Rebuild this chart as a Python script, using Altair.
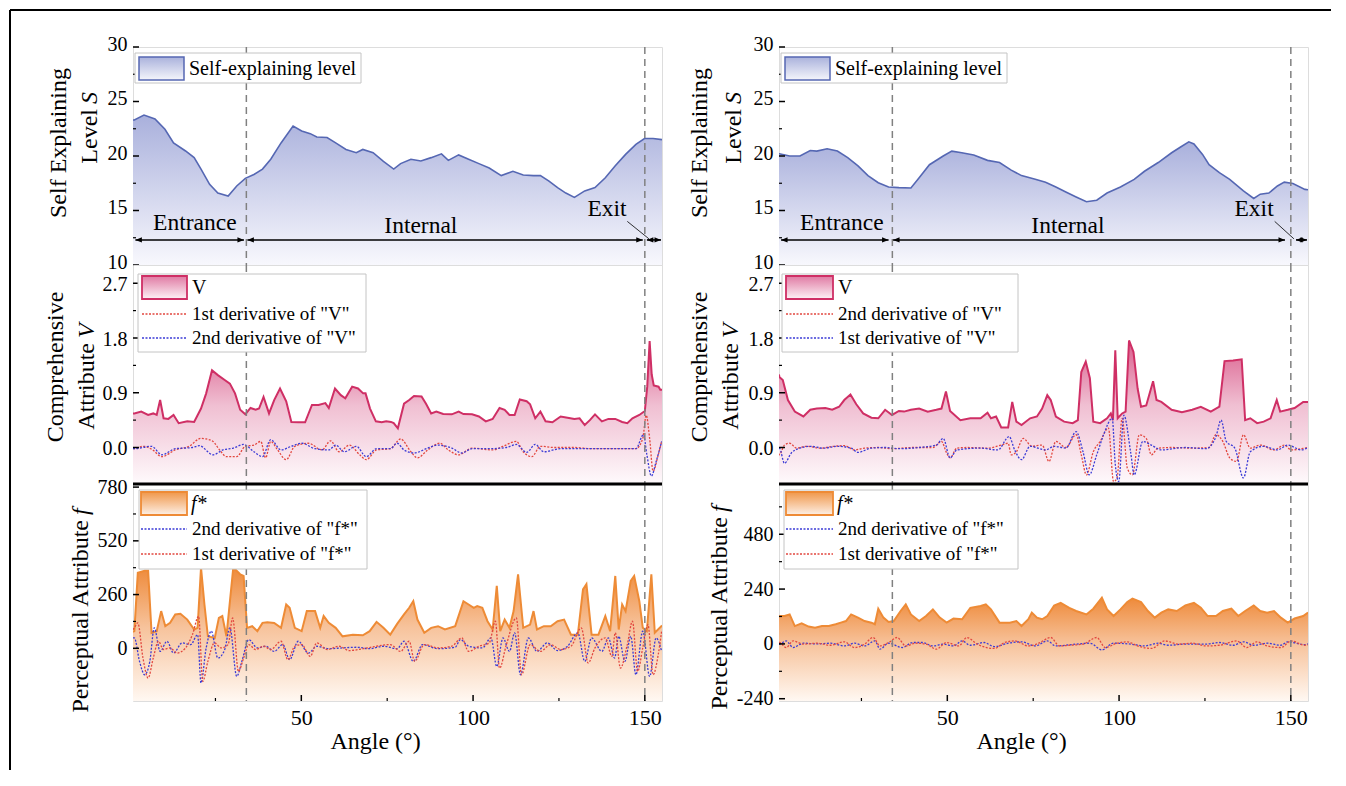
import altair as alt
import pandas as pd

FONT = "'Liberation Serif', 'Times New Roman', serif"
W = 529
H_TOP, H_MID, H_BOT = 218, 219, 217

# ---------------- axes / ticks ----------------
X_DOMAIN = [1, 155]
X_MAJOR = [50, 100, 150]
X_MINOR = [25, 75, 125]
ZONE_BOUNDS = [34, 150]

S_DOMAIN = [10, 30]
S_TICKS = [10, 15, 20, 25, 30]
S_MINOR = [12.5, 17.5, 22.5, 27.5]
V_DOMAIN = [-0.6, 3.0]
V_TICKS = [0.0, 0.9, 1.8, 2.7]
V_MINOR = [0.45, 1.35, 2.25]
F_DOMAIN_L = [-255, 795]
F_TICKS_L = [0, 260, 520, 780]
F_MINOR_L = [130, 390, 650]
F_DOMAIN_R = [-250, 700]
F_TICKS_R = [-240, 0, 240, 480]
F_MINOR_R = [-120, 120, 360, 600]

# ---------------- data (angle, value) ----------------
S_LEFT = [(1.0, 23.3), (1.4, 23.3), (4.2, 23.76), (7.4, 23.4), (10.3, 22.45), (12.8, 21.2), (16.3, 20.46),
          (18.8, 19.85), (20.8, 18.8), (23.3, 17.4), (25.7, 16.6), (28.7, 16.33), (31.2, 17.25), (33.7, 17.95),
          (36.2, 18.3), (38.7, 18.8), (41.1, 19.7), (44.1, 21.2), (47.6, 22.75), (50.1, 22.3), (52.6, 22.05),
          (54.5, 21.74), (57.5, 21.7), (60.0, 21.2), (63.0, 20.6), (66.0, 20.3), (67.9, 20.6), (70.9, 20.3),
          (73.9, 19.5), (76.9, 18.8), (78.9, 19.3), (81.9, 19.7), (84.8, 19.54), (87.8, 19.85), (90.8, 20.2),
          (92.8, 19.6), (95.8, 20.1), (98.7, 19.7), (101.7, 19.3), (104.7, 18.9), (108.2, 18.2), (111.6, 18.6),
          (114.6, 18.25), (117.6, 18.2), (119.6, 18.2), (122.1, 17.7), (124.6, 17.1), (127.0, 16.6),
          (129.5, 16.2), (132.5, 16.8), (135.5, 17.1), (138.5, 18.0), (141.4, 19.1), (144.4, 20.15),
          (147.4, 21.07), (149.9, 21.6), (152.4, 21.6), (155.0, 21.5)]

S_RIGHT = [(1.0, 20.2), (1.1, 20.2), (4.1, 20.0), (7.1, 20.0), (10.1, 20.5), (12.0, 20.45), (15.0, 20.67),
           (18.0, 20.45), (21.0, 19.85), (24.0, 19.1), (26.9, 18.2), (29.9, 17.55), (32.9, 17.16), (35.9, 17.1),
           (39.4, 17.07), (41.8, 18.0), (44.8, 19.2), (48.8, 20.0), (51.3, 20.45), (54.2, 20.3), (57.7, 20.1),
           (61.7, 19.6), (65.2, 19.4), (68.6, 18.7), (71.6, 18.2), (75.6, 17.86), (78.6, 17.6), (81.6, 17.16),
           (84.5, 16.7), (87.5, 16.24), (90.5, 15.8), (93.5, 15.94), (96.5, 16.6), (100.4, 17.16), (104.4, 17.86),
           (107.4, 18.6), (111.4, 19.4), (115.3, 20.3), (117.8, 20.8), (120.3, 21.3), (121.8, 21.1),
           (124.3, 20.15), (126.2, 19.2), (129.2, 18.47), (132.2, 17.86), (136.2, 16.8), (139.2, 16.1),
           (141.1, 16.5), (143.6, 16.6), (146.1, 17.25), (148.1, 17.6), (150.6, 17.47), (154.1, 16.94), (155.0, 16.9)]

V_LEFT = [(1.0, 0.56), (1.4, 0.56), (3.4, 0.59), (5.4, 0.535), (6.9, 0.56), (7.9, 0.535), (8.9, 0.78), (9.9, 0.48),
          (11.3, 0.47), (12.8, 0.535), (14.3, 0.40), (16.8, 0.43), (18.8, 0.42), (20.8, 0.64), (22.3, 0.89),
          (24.0, 1.27), (25.7, 1.19), (27.7, 1.11), (29.2, 1.05), (30.7, 0.89), (32.2, 0.62), (33.7, 0.545),
          (35.2, 0.65), (36.7, 0.62), (37.7, 0.64), (39.0, 0.83), (40.6, 0.56), (42.1, 0.78), (43.8, 0.97),
          (45.6, 0.76), (47.1, 0.42), (49.1, 0.415), (51.1, 0.415), (53.1, 0.70), (55.0, 0.70), (57.0, 0.73),
          (58.0, 0.65), (59.8, 0.97), (61.5, 0.86), (62.8, 0.81), (64.8, 1.0), (66.5, 0.97), (68.0, 0.89),
          (68.7, 0.89), (70.0, 0.64), (71.7, 0.43), (73.4, 0.415), (74.7, 0.43), (76.1, 0.42), (76.9, 0.40),
          (78.1, 0.316), (79.9, 0.72), (81.4, 0.78), (82.8, 0.845), (85.0, 0.84), (86.3, 0.72), (87.8, 0.56),
          (89.3, 0.59), (91.3, 0.55), (93.8, 0.545), (95.8, 0.59), (97.2, 0.55), (99.7, 0.545), (101.7, 0.51),
          (103.7, 0.43), (105.7, 0.47), (107.7, 0.65), (109.2, 0.62), (110.6, 0.535), (112.1, 0.535),
          (113.6, 0.79), (115.6, 0.76), (116.6, 0.71), (118.1, 0.48), (119.6, 0.59), (121.1, 0.43),
          (123.1, 0.415), (125.5, 0.51), (127.5, 0.49), (129.5, 0.47), (131.0, 0.48), (132.5, 0.37),
          (134.0, 0.45), (135.5, 0.545), (137.5, 0.43), (139.4, 0.47), (141.4, 0.47), (143.4, 0.42),
          (144.9, 0.40), (146.4, 0.48), (148.4, 0.535), (150.0, 0.60), (150.7, 1.0), (151.4, 1.75),
          (152.0, 1.2), (152.6, 1.02), (154.0, 1.0), (154.5, 0.95), (155.0, 0.95)]

V_RIGHT = [(1.0, 1.2), (1.1, 1.16), (2.1, 1.11), (3.6, 0.78), (5.6, 0.59), (8.1, 0.51), (10.1, 0.62), (12.0, 0.64),
           (14.5, 0.65), (16.5, 0.62), (18.5, 0.67), (20.0, 0.78), (21.8, 0.87), (23.5, 0.71), (25.5, 0.56),
           (27.9, 0.49), (29.9, 0.48), (31.9, 0.62), (33.9, 0.535), (35.9, 0.60), (37.4, 0.59), (39.4, 0.62),
           (41.8, 0.64), (44.3, 0.59), (46.8, 0.62), (48.3, 0.64), (49.6, 0.92), (50.8, 0.60), (53.8, 0.45),
           (56.7, 0.48), (59.7, 0.48), (61.7, 0.57), (62.7, 0.48), (64.2, 0.51), (65.7, 0.33), (67.7, 0.33),
           (68.9, 0.75), (70.1, 0.425), (71.6, 0.37), (74.1, 0.48), (76.1, 0.51), (77.6, 0.64), (79.1, 0.86),
           (80.1, 0.78), (81.6, 0.51), (84.0, 0.425), (86.5, 0.40), (88.0, 0.45), (89.0, 1.24), (90.3, 1.41),
           (91.5, 1.14), (92.5, 0.425), (94.5, 0.40), (96.5, 0.48), (97.6, 0.56), (98.2, 0.45), (98.9, 1.6),
           (99.6, 0.48), (100.9, 0.56), (101.9, 0.59), (102.9, 1.76), (104.2, 1.57), (105.4, 0.97), (106.4, 0.67),
           (107.9, 0.69), (109.9, 1.09), (110.9, 0.78), (112.3, 0.75), (115.3, 0.62), (118.3, 0.58),
           (121.3, 0.62), (123.8, 0.67), (126.7, 0.59), (129.2, 0.67), (130.7, 1.42), (133.2, 1.43),
           (135.7, 1.45), (136.7, 0.45), (138.2, 0.48), (140.2, 0.40), (142.1, 0.425), (144.1, 0.48),
           (145.9, 0.78), (146.9, 0.59), (149.1, 0.62), (151.1, 0.65), (153.6, 0.75), (155.0, 0.75)]

V_LEFT_D1 = [(1.0, -0.02), (1.4, -0.02), (4.0, 0.02), (6.5, -0.03), (9.4, -0.15), (13.3, -0.04), (17.3, 0.02),
             (20.8, 0.15), (22.3, 0.14), (24.3, 0.10), (26.2, -0.04), (28.2, -0.15), (31.2, -0.15), (33.7, 0.02),
             (36.2, 0.04), (38.2, 0.10), (39.6, -0.17), (41.1, 0.10), (43.1, -0.04), (45.6, -0.20), (48.1, 0.02),
             (52.1, 0.07), (56.0, -0.04), (58.5, 0.11), (61.0, -0.07), (64.0, 0.04), (67.0, -0.12), (68.9, -0.20),
             (71.9, -0.04), (75.9, -0.02), (78.9, 0.14), (81.9, -0.07), (83.8, -0.17), (86.8, -0.04), (90.3, 0.07),
             (92.8, -0.04), (95.8, -0.12), (99.7, -0.01), (105.7, -0.04), (108.7, 0.02), (112.6, 0.10),
             (114.6, -0.07), (117.1, -0.15), (119.6, 0.02), (123.6, 0.0), (129.5, 0.0), (134.5, -0.02),
             (139.4, -0.02), (147.4, -0.02), (149.4, 0.15), (150.4, 0.53), (151.4, 0.15), (152.4, -0.39),
             (153.9, -0.12), (154.9, 0.10)]
V_LEFT_D2 = [(1.0, -0.02), (1.4, -0.02), (6.4, 0.02), (9.4, -0.12), (13.3, -0.02), (18.3, 0.0), (20.3, 0.03),
             (24.3, -0.12), (27.2, -0.04), (30.2, -0.01), (33.2, 0.05), (36.2, -0.07), (38.7, -0.15), (41.1, 0.13),
             (44.1, -0.04), (47.1, 0.02), (50.1, 0.07), (54.0, -0.02), (58.0, -0.04), (60.0, 0.04), (62.5, -0.07),
             (66.0, 0.02), (68.9, -0.15), (71.9, -0.02), (75.9, -0.02), (77.9, 0.07), (79.9, -0.04), (82.8, -0.09),
             (86.8, -0.01), (89.8, 0.04), (93.8, -0.01), (96.7, -0.09), (99.7, -0.02), (104.7, -0.02),
             (109.7, 0.0), (112.6, 0.05), (115.6, -0.08), (118.1, 0.05), (120.6, -0.07), (125.5, -0.02),
             (134.5, -0.02), (147.4, -0.02), (149.6, 0.21), (150.6, -0.12), (151.9, -0.47), (153.3, -0.23),
             (154.9, 0.10)]
V_RIGHT_D2 = [(1.0, -0.10), (1.1, -0.12), (2.6, 0.04), (4.1, 0.07), (6.1, -0.01), (9.1, 0.02), (13.0, -0.01),
              (17.0, 0.02), (20.0, 0.03), (23.0, -0.04), (25.9, -0.01), (29.9, 0.0), (33.9, -0.02), (39.9, 0.0),
              (45.8, 0.0), (48.3, 0.10), (49.8, -0.09), (50.8, -0.17), (52.8, -0.01), (55.7, 0.0), (61.7, -0.01),
              (65.7, 0.04), (67.7, 0.07), (68.6, -0.12), (70.1, -0.07), (72.1, 0.15), (74.6, 0.02), (77.6, 0.04),
              (79.6, -0.23), (81.6, 0.10), (84.5, 0.0), (87.5, 0.21), (89.0, -0.12), (90.5, -0.45), (92.5, -0.07),
              (94.5, 0.10), (96.9, 0.32), (98.4, -0.56), (99.4, -0.50), (100.9, 0.48), (102.4, -0.34),
              (103.9, -0.45), (105.9, 0.21), (107.9, 0.15), (109.4, -0.12), (111.4, -0.01), (115.3, 0.0),
              (121.3, -0.01), (126.2, 0.0), (128.2, 0.21), (130.2, 0.10), (132.2, -0.17), (134.2, -0.23),
              (136.2, 0.21), (138.2, -0.01), (141.1, 0.04), (145.1, -0.04), (148.1, 0.04), (150.1, -0.04),
              (154.1, -0.01), (155.0, 0.0)]
V_RIGHT_D1 = [(1.0, -0.01), (1.1, -0.01), (2.6, -0.26), (4.6, -0.09), (7.1, -0.01), (10.1, 0.02), (14.0, -0.01),
              (18.0, 0.02), (22.0, -0.01), (24.0, -0.08), (27.9, -0.01), (31.9, 0.0), (35.9, -0.02), (41.8, 0.0),
              (46.8, 0.04), (48.8, 0.15), (50.8, -0.17), (52.8, -0.04), (59.7, -0.01), (64.7, -0.04), (68.0, 0.18),
              (69.6, -0.04), (71.6, -0.20), (74.1, 0.02), (78.6, -0.04), (81.1, 0.02), (84.5, -0.01), (87.5, 0.26),
              (89.5, -0.07), (91.3, -0.45), (93.5, -0.12), (95.5, 0.21), (98.0, 0.48), (98.9, -0.28),
              (99.9, -0.56), (101.4, 0.53), (103.4, -0.09), (104.4, -0.45), (106.9, 0.10), (109.4, 0.04),
              (112.3, -0.04), (119.3, 0.0), (125.3, -0.02), (128.2, 0.18), (129.7, 0.45), (131.2, 0.10),
              (133.7, -0.01), (136.2, -0.50), (138.2, -0.07), (142.1, 0.02), (146.1, -0.04), (149.1, 0.04),
              (153.1, -0.04), (155.0, 0.0)]

F_LEFT = [(1.0, 80), (1.4, 83), (2.4, 366), (4.4, 375), (5.4, 375), (6.4, 75), (7.9, 83), (9.2, 180), (10.4, 107),
          (11.8, 123), (13.3, 164), (14.8, 167), (16.8, 139), (18.8, 91), (19.8, 99), (20.8, 391), (21.8, 212),
          (22.8, 58), (24.8, 50), (26.0, 147), (27.0, 156), (28.2, 58), (30.2, 391), (32.2, 358), (33.2, 350),
          (34.2, 99), (35.7, 107), (37.2, 83), (38.7, 123), (40.1, 126), (42.1, 123), (44.1, 99), (45.6, 212),
          (46.6, 196), (48.1, 99), (50.1, 83), (51.6, 180), (54.0, 180), (55.5, 99), (56.5, 156), (58.0, 123),
          (60.0, 99), (62.0, 58), (65.0, 66), (67.9, 63), (69.9, 83), (71.9, 128), (73.9, 99), (75.9, 66),
          (77.9, 118), (79.9, 164), (81.4, 196), (82.6, 228), (83.8, 139), (85.8, 75), (87.8, 99), (89.8, 107),
          (91.8, 91), (94.8, 107), (97.2, 228), (98.7, 212), (100.2, 196), (101.2, 204), (102.7, 196),
          (104.2, 131), (105.7, 91), (106.9, 302), (107.9, 83), (109.2, 139), (110.6, 99), (111.8, 180),
          (113.1, 358), (114.6, 99), (116.6, 115), (117.6, 180), (118.6, 91), (120.6, 107), (122.6, 107),
          (124.6, 131), (126.5, 139), (128.5, 66), (130.5, 66), (132.0, 285), (133.0, 310), (134.5, 66),
          (136.5, 66), (138.5, 156), (139.9, 83), (141.4, 350), (142.4, 91), (143.4, 212), (144.4, 180),
          (145.9, 326), (146.9, 350), (148.4, 228), (149.4, 99), (150.6, 83), (151.9, 358), (152.9, 75),
          (154.8, 107), (155.0, 110)]

F_RIGHT = [(1.0, 118), (1.1, 122), (2.6, 122), (4.1, 129), (5.6, 78), (7.6, 90), (9.6, 76), (11.5, 71), (13.5, 78),
           (15.5, 78), (17.5, 86), (19.0, 93), (20.5, 100), (22.0, 129), (24.0, 115), (25.9, 100), (27.9, 93),
           (28.9, 86), (29.9, 154), (31.4, 115), (32.9, 96), (34.4, 100), (36.4, 144), (37.9, 173), (39.4, 129),
           (41.8, 100), (43.8, 122), (45.8, 151), (47.8, 115), (49.8, 93), (51.8, 111), (54.3, 108), (56.7, 158),
           (59.7, 166), (61.2, 173), (62.7, 151), (65.2, 93), (68.2, 93), (70.1, 100), (71.6, 78), (73.6, 108),
           (74.6, 137), (76.1, 115), (77.6, 108), (79.1, 122), (81.1, 168), (83.0, 180), (85.5, 158), (87.5, 144),
           (90.5, 129), (92.5, 154), (95.0, 202), (96.5, 151), (98.4, 122), (100.4, 151), (102.4, 183),
           (103.9, 198), (106.4, 183), (108.4, 144), (110.4, 115), (112.3, 137), (114.3, 151), (116.8, 144),
           (119.3, 168), (121.8, 180), (123.8, 158), (125.8, 122), (128.2, 122), (130.2, 144), (132.7, 154),
           (134.7, 122), (136.7, 144), (139.2, 168), (141.1, 144), (143.1, 137), (145.1, 144), (147.1, 115),
           (149.1, 93), (151.1, 111), (153.6, 122), (155.0, 137)]

F_LEFT_D1 = [(1.0, 90), (1.4, 99), (2.4, 123), (3.9, -47), (5.4, -144), (6.9, -47), (8.4, 34), (9.9, -6), (11.8, 2),
             (13.8, -23), (16.3, 2), (18.3, 66), (20.1, 155), (21.3, -160), (22.8, -63), (24.7, 26), (26.7, 2),
             (28.7, 18), (30.0, 147), (31.7, -112), (33.2, -47), (34.7, 18), (36.7, -6), (39.1, 10), (41.1, -6),
             (44.1, 34), (46.1, -55), (48.1, 10), (50.1, 18), (52.6, -39), (54.5, 26), (57.5, -6), (61.0, 10),
             (64.0, -11), (68.0, -2), (71.9, 10), (75.9, 18), (78.9, -15), (81.4, 34), (83.0, -63), (85.8, 18),
             (89.8, 2), (93.8, 10), (96.7, 50), (98.7, -15), (101.7, 10), (104.7, 26), (106.5, 131), (107.7, -96),
             (109.7, 18), (112.6, 147), (114.1, -128), (116.6, 18), (119.6, -15), (122.6, 18), (125.5, -6),
             (128.5, 10), (131.5, 99), (133.5, -71), (135.5, 2), (138.5, 50), (140.4, -39), (141.4, 75),
             (142.9, -96), (144.9, 18), (146.4, 131), (147.9, -112), (149.4, 2), (150.9, 115), (152.4, -128),
             (153.9, -31), (154.9, 83)]
F_LEFT_D2 = [(1.0, 50), (1.4, 50), (2.9, -63), (4.4, -128), (5.9, -63), (7.2, 99), (8.9, -15), (10.9, 34),
             (12.8, -23), (15.3, 26), (17.8, 18), (19.8, 66), (20.8, -168), (22.3, 2), (23.8, 83), (25.7, -47),
             (27.7, -6), (29.2, 99), (31.2, -136), (32.7, -63), (34.7, 42), (37.2, 2), (39.6, 10), (42.1, -15),
             (44.6, 18), (46.6, -55), (49.1, 34), (52.1, -23), (54.5, 10), (58.0, -2), (62.0, 2), (66.0, 5),
             (69.9, -2), (73.9, 10), (77.9, -2), (79.9, 34), (82.6, -63), (85.3, 18), (89.8, -2), (94.8, 5),
             (96.3, 42), (98.7, 10), (102.7, 2), (105.2, 50), (106.9, -88), (108.7, 50), (110.6, -15), (112.1, 75),
             (113.8, -128), (116.1, 50), (118.6, -15), (121.6, 26), (124.6, -11), (127.5, 10), (130.5, 75),
             (132.5, -63), (134.5, 50), (137.5, -15), (139.4, 50), (141.2, -47), (142.4, 58), (144.2, -63),
             (145.9, 58), (147.4, -128), (149.4, 83), (151.4, -136), (153.3, 50), (154.9, -15)]
F_RIGHT_D1 = [(1.0, 6), (1.1, 6), (3.1, -16), (5.1, 13), (8.1, -1), (12.0, 3), (16.0, -6), (20.0, 9), (23.0, -16),
              (25.9, -1), (28.4, 28), (30.4, -9), (32.9, 6), (35.4, 28), (37.9, -9), (40.8, 3), (43.8, -1),
              (46.8, -23), (49.8, 6), (53.3, -9), (55.7, 28), (58.7, -1), (63.7, -20), (66.7, 6), (69.6, 13),
              (73.6, -9), (76.6, 3), (80.1, 28), (82.6, -9), (85.5, -6), (89.5, -1), (93.5, 28), (96.0, -16),
              (99.4, 3), (102.4, 9), (105.4, -9), (109.4, -20), (113.3, 13), (117.3, -1), (121.3, 3), (125.3, -9),
              (129.2, -6), (134.2, 13), (137.2, -16), (140.1, 9), (143.1, -9), (147.1, -16), (150.1, 13),
              (154.1, -6), (155.0, -4)]
F_RIGHT_D2 = [(1.0, -1), (1.1, -1), (3.1, 13), (5.1, -16), (8.1, 3), (12.0, 0), (16.0, 3), (20.0, -9), (23.0, 3),
              (25.9, -9), (28.9, 13), (30.4, -23), (32.9, 3), (36.9, -16), (39.9, 6), (42.8, 6), (45.8, -9),
              (48.8, -1), (51.8, -9), (54.3, 13), (56.7, -6), (60.7, 6), (63.7, -12), (67.7, 3), (71.6, 9),
              (75.6, -9), (79.1, 13), (81.6, -9), (87.5, -1), (91.5, 3), (95.0, -26), (98.4, 3), (103.4, -1),
              (107.4, -9), (111.4, 3), (114.3, -6), (119.3, -1), (125.3, -1), (129.2, 6), (133.2, -6), (136.2, 9),
              (139.2, -6), (143.1, 3), (147.1, -6), (149.1, 9), (154.1, -3), (155.0, 0)]

# zones (start, end) and annotation positions
ZONES_L = [(1.7, 33.3), (34.3, 149.4), (150.6, 154.7)]
ZONES_R = [(1.6, 32.9), (34.2, 148.3), (151.5, 154.7)]
ARROW_LEVEL = 12.3
ZONE_TEXT_L = [("Entrance", 19.0, 13.85), ("Internal", 84.8, 13.6), ("Exit", 139.0, 15.1)]
ZONE_TEXT_R = [("Entrance", 19.3, 13.85), ("Internal", 85.1, 13.6), ("Exit", 139.3, 15.1)]
LEADER_L = (144.9, 14.0, 151.2, 12.4)
LEADER_R = (145.3, 14.0, 150.9, 12.4)

# ---------------- styles ----------------
S_LINE = "#5567b3"
V_LINE = "#cf2f65"
F_LINE = "#ee8b36"
RED = "#e2473f"
BLUE = "#3b3bd6"
DASH = "#808080"
TITLE_SIZE = 24
LABEL_SIZE = 20


def grad(stops):
    return alt.Gradient(gradient="linear", x1=0, x2=0, y1=0, y2=1,
                        stops=[alt.GradientStop(offset=o, color=c) for o, c in stops])


GRAD_S = grad([(0, "#a9b0dc"), (1, "#f8f8fd")])
GRAD_V = grad([(0, "#da5d8c"), (0.45, "#f0bfd2"), (1, "#fefafc")])
GRAD_F = grad([(0, "#ee8a3a"), (0.45, "#f7c39c"), (1, "#fff8f2")])
SW_S = grad([(0, "#aab2dc"), (1, "#f4f5fb")])
SW_V = grad([(0, "#e07aa3"), (1, "#fdf2f6")])
SW_F = grad([(0, "#f0974a"), (1, "#fdf0e6")])

ONE = pd.DataFrame({"k": [0]})
X_SCALE = alt.Scale(domain=X_DOMAIN, nice=False, zero=False)
X_AXIS = alt.Axis(values=X_MAJOR, title="Angle (°)", tickSize=0, domain=False, grid=False,
                  labelFont=FONT, labelFontSize=22, labelColor="black", labelPadding=6,
                  titleFont=FONT, titleFontSize=TITLE_SIZE, titleFontWeight="normal", titleColor="black",
                  titlePadding=1, titleX=242)


def df(pairs):
    return pd.DataFrame(pairs, columns=["a", "v"])


def xe(bottom):
    if bottom:
        return alt.X("a:Q", scale=X_SCALE, axis=X_AXIS)
    return alt.X("a:Q", scale=X_SCALE, axis=None)


def make_y(domain, ticks, fmt=None, expr=None, offset=0):
    kw = dict(values=ticks, title=None, tickSize=0, domain=False, grid=False, labelFont=FONT,
              labelFontSize=LABEL_SIZE, labelColor="black", labelPadding=6, labelOffset=offset)
    if fmt:
        kw["format"] = fmt
    if expr:
        kw["labelExpr"] = expr

    def f():
        return alt.Y("v:Q", scale=alt.Scale(domain=domain, nice=False, zero=False), axis=alt.Axis(**kw))
    return f


def rect(x1, x2, y1, y2, **mk):
    return alt.Chart(ONE).mark_rect(**mk).encode(x=alt.value(x1), x2=alt.value(x2), y=alt.value(y1), y2=alt.value(y2))


def seg(x1, x2, y1, y2, **mk):
    return alt.Chart(ONE).mark_rule(**mk).encode(x=alt.value(x1), x2=alt.value(x2), y=alt.value(y1), y2=alt.value(y2))


def txt(x, y, s, size=19, **mk):
    return alt.Chart(ONE).mark_text(text=s, font=FONT, fontSize=size, color="black", **mk).encode(
        x=alt.value(x), y=alt.value(y))


def common(Y, h, yticks, yminor, bottom):
    layers = []
    layers.append(alt.Chart(pd.DataFrame({"a": ZONE_BOUNDS})).mark_rule(
        color=DASH, strokeDash=[7, 5], strokeWidth=1.5).encode(x=xe(bottom)))
    layers.append(alt.Chart(pd.DataFrame({"v": yticks})).mark_rule(color="black", strokeWidth=1.5).encode(
        y=Y(), x=alt.value(0), x2=alt.value(6)))
    layers.append(alt.Chart(pd.DataFrame({"v": yminor})).mark_rule(color="black", strokeWidth=1.2).encode(
        y=Y(), x=alt.value(0), x2=alt.value(3)))
    if bottom:
        layers.append(alt.Chart(pd.DataFrame({"a": X_MAJOR})).mark_rule(color="black", strokeWidth=1.5).encode(
            x=xe(True), y=alt.value(h), y2=alt.value(h - 6)))
        layers.append(alt.Chart(pd.DataFrame({"a": X_MINOR})).mark_rule(color="black", strokeWidth=1.2).encode(
            x=xe(True), y=alt.value(h), y2=alt.value(h - 3)))
    return layers


ARROW_L = "M0,0L1,-0.4L1,0.4Z"
ARROW_R = "M0,0L-1,-0.4L-1,0.4Z"


def top_panel(S, zones, ztext, leader, tx1, tx2, with_frame):
    Y = make_y(S_DOMAIN, S_TICKS, offset=-3)
    layers = [
        alt.Chart(df(S)).mark_area(fill=GRAD_S, clip=True).encode(x=xe(False), y=Y(), y2=alt.datum(S_DOMAIN[0])),
        alt.Chart(df(S)).mark_line(color=S_LINE, strokeWidth=1.6, clip=True).encode(x=xe(False), y=Y()),
    ]
    layers += common(Y, H_TOP, S_TICKS, S_MINOR, False)
    zdf = pd.DataFrame({"a": [z[0] for z in zones], "a2": [z[1] for z in zones],
                        "v": [ARROW_LEVEL] * len(zones)})
    layers.append(alt.Chart(zdf).mark_rule(color="black", strokeWidth=1.6).encode(
        x=xe(False), x2="a2:Q", y=Y()))
    layers.append(alt.Chart(zdf).mark_point(shape=ARROW_L, filled=True, size=169, color="black", opacity=1).encode(
        x=xe(False), y=Y()))
    layers.append(alt.Chart(zdf.assign(a=zdf["a2"])).mark_point(shape=ARROW_R, filled=True, size=169,
                                                                  color="black", opacity=1).encode(
        x=xe(False), y=Y()))
    tdf = pd.DataFrame({"t": [z[0] for z in ztext], "a": [z[1] for z in ztext], "v": [z[2] for z in ztext]})
    layers.append(alt.Chart(tdf).mark_text(font=FONT, fontSize=23.5, color="black").encode(
        x=xe(False), y=Y(), text="t:N"))
    ldf = pd.DataFrame({"a": [leader[0]], "v": [leader[1]], "a2": [leader[2]], "v2": [leader[3]]})
    layers.append(alt.Chart(ldf).mark_rule(color="black", strokeWidth=0.8).encode(
        x=xe(False), y=Y(), x2="a2:Q", y2="v2:Q"))
    # legend
    layers += [
        rect(2, 228, 6, 36, fill="white", stroke="#c4c4c4", strokeWidth=1),
        rect(6, 51, 10, 33, fill=SW_S, stroke=S_LINE, strokeWidth=1.5),
        txt(56, 22, "Self-explaining level", size=20, align="left", baseline="middle"),
    ]
    # y title
    layers += [
        txt(tx1, 96, "Self Explaining", size=TITLE_SIZE, angle=270, align="center", baseline="middle"),
        txt(tx2, 62, "Level", size=TITLE_SIZE, angle=270, align="right", baseline="middle"),
        txt(tx2, 57, "S", size=TITLE_SIZE, angle=270, align="left", baseline="middle", fontStyle="italic"),
    ]
    if with_frame:
        layers += [
            seg(-123, -123, -37, 723, color="black", strokeWidth=2),
            seg(-123, 1198, -37, -37, color="black", strokeWidth=2),
        ]
    return alt.layer(*layers).properties(width=W, height=H_TOP)


def mid_panel(V, red, blue, red_label, blue_label, tx1, tx2, box):
    Y = make_y(V_DOMAIN, V_TICKS, fmt=".1f", offset=1)
    layers = [
        alt.Chart(df(V)).mark_area(fill=GRAD_V, clip=True).encode(x=xe(False), y=Y(), y2=alt.datum(V_DOMAIN[0])),
        alt.Chart(df(V)).mark_line(color=V_LINE, strokeWidth=2, clip=True).encode(x=xe(False), y=Y()),
        alt.Chart(df(red)).mark_line(color=RED, strokeWidth=1.3, strokeDash=[2, 1.5], clip=True,
                                     interpolate="monotone").encode(x=xe(False), y=Y()),
        alt.Chart(df(blue)).mark_line(color=BLUE, strokeWidth=1.3, strokeDash=[2, 1.5], clip=True,
                                      interpolate="monotone").encode(x=xe(False), y=Y()),
    ]
    layers += common(Y, H_MID, V_TICKS, V_MINOR, False)
    bx1, bx2, sx1, sx2 = box
    layers += [
        rect(bx1, bx2, 9, 87, fill="white", stroke="#c4c4c4", strokeWidth=1),
        rect(sx1, sx2, 11, 34, fill=SW_V, stroke=V_LINE, strokeWidth=1.8),
        txt(sx2 + 5, 23, "V", size=20, align="left", baseline="middle"),
        seg(sx1, sx2, 49, 49, color=RED, strokeWidth=1.3, strokeDash=[2, 1.5]),
        txt(sx2 + 5, 49, red_label, align="left", baseline="middle"),
        seg(sx1, sx2, 73, 73, color=BLUE, strokeWidth=1.3, strokeDash=[2, 1.5]),
        txt(sx2 + 5, 73, blue_label, align="left", baseline="middle"),
    ]
    layers += [
        txt(tx1, 102, "Comprehensive", size=TITLE_SIZE, angle=270, align="center", baseline="middle"),
        txt(tx2, 78, "Attribute", size=TITLE_SIZE, angle=270, align="right", baseline="middle"),
        txt(tx2, 73, "V", size=TITLE_SIZE, angle=270, align="left", baseline="middle", fontStyle="italic"),
    ]
    return alt.layer(*layers).properties(width=W, height=H_MID)


def bot_panel(F, red, blue, domain, ticks, minor, tx, anchor, box):
    Y = make_y(domain, ticks, expr="'' + datum.value")
    layers = [
        alt.Chart(df(F)).mark_area(fill=GRAD_F, clip=True).encode(x=xe(True), y=Y(), y2=alt.datum(domain[0])),
        alt.Chart(df(F)).mark_line(color=F_LINE, strokeWidth=2, clip=True).encode(x=xe(True), y=Y()),
        alt.Chart(df(blue)).mark_line(color=BLUE, strokeWidth=1.3, strokeDash=[2, 1.5], clip=True,
                                      interpolate="monotone").encode(x=xe(True), y=Y()),
        alt.Chart(df(red)).mark_line(color=RED, strokeWidth=1.3, strokeDash=[2, 1.5], clip=True,
                                     interpolate="monotone").encode(x=xe(True), y=Y()),
    ]
    layers += common(Y, H_BOT, ticks, minor, True)
    layers.append(seg(0, W, 0, 0, color="black", strokeWidth=3))
    bx1, bx2, sx1, sx2 = box
    layers += [
        rect(bx1, bx2, 6, 85, fill="white", stroke="#c4c4c4", strokeWidth=1),
        rect(sx1, sx2, 8, 31, fill=SW_F, stroke=F_LINE, strokeWidth=1.8),
        txt(sx2 + 4, 20, "f*", size=20, align="left", baseline="middle", fontStyle="italic"),
        seg(sx1, sx2, 45, 45, color=BLUE, strokeWidth=1.3, strokeDash=[2, 1.5]),
        txt(sx2 + 5, 45, '2nd derivative of "f*"', align="left", baseline="middle"),
        seg(sx1, sx2, 70, 70, color=RED, strokeWidth=1.3, strokeDash=[2, 1.5]),
        txt(sx2 + 5, 70, '1st derivative of "f*"', align="left", baseline="middle"),
    ]
    layers += [
        txt(tx, anchor, "Perceptual Attribute", size=TITLE_SIZE, angle=270, align="right", baseline="middle"),
        txt(tx, anchor - 5, "f", size=TITLE_SIZE, angle=270, align="left", baseline="middle", fontStyle="italic"),
    ]
    return alt.layer(*layers).properties(width=W, height=H_BOT)


panels = [
    top_panel(S_LEFT, ZONES_L, ZONE_TEXT_L, LEADER_L, -74, -43, True),
    top_panel(S_RIGHT, ZONES_R, ZONE_TEXT_R, LEADER_R, -79, -45, False),
    mid_panel(V_LEFT, V_LEFT_D1, V_LEFT_D2, '1st derivative of "V"', '2nd derivative of "V"', -77, -46,
              (5, 233, 9, 54)),
    mid_panel(V_RIGHT, V_RIGHT_D2, V_RIGHT_D1, '2nd derivative of "V"', '1st derivative of "V"', -79, -48,
              (3, 239, 7, 54)),
    bot_panel(F_LEFT, F_LEFT_D1, F_LEFT_D2, F_DOMAIN_L, F_TICKS_L, F_MINOR_L, -52, 36, (6, 234, 8, 54)),
    bot_panel(F_RIGHT, F_RIGHT_D1, F_RIGHT_D2, F_DOMAIN_R, F_TICKS_R, F_MINOR_R, -59, 33, (5, 239, 7, 54)),
]

chart = alt.concat(*panels, columns=2, spacing={"row": 0, "column": 117}, bounds="flush", padding=0
                   ).configure_view(stroke="black", strokeWidth=1.8).configure(font=FONT, background="white")

chart.save("out.html", embed_options={"renderer": "svg", "actions": False})
